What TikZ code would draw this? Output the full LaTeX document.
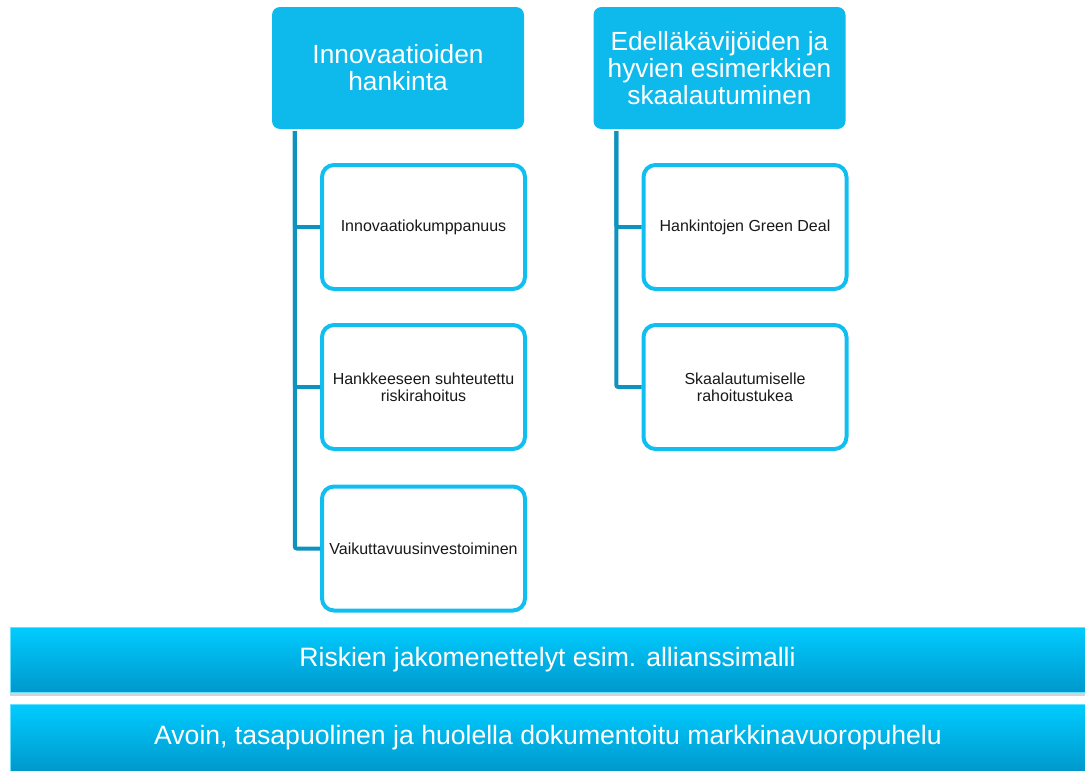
\documentclass[tikz,border=0pt]{standalone}
\usepackage{fontspec}
\setmainfont{Liberation Sans}
\usetikzlibrary{shadows}
\definecolor{headcyan}{RGB}{14,185,236}
\definecolor{boxcyan}{RGB}{16,190,240}
\definecolor{linkblue}{RGB}{14,146,190}
\definecolor{bartop}{RGB}{0,204,255}
\definecolor{barbottom}{RGB}{0,152,204}

\begin{document}
\begin{tikzpicture}[x=1pt, y=-1pt,
    head/.style={fill=headcyan, rounded corners=8pt, minimum width=252pt, minimum height=122pt,
        inner sep=0pt, align=center, text=white, font=\fontsize{26.3}{27}\selectfont},
    item/.style={draw=boxcyan, line width=4pt, fill=white, rounded corners=12pt, minimum width=203pt,
        minimum height=124pt, inner sep=0pt, align=center, text=black!90, font=\fontsize{16}{17}\selectfont},
    bar/.style={top color=bartop, bottom color=barbottom, draw=bartop!60, line width=0.6pt,
        minimum width=1075pt, inner sep=0pt, text=white, font=\fontsize{26.6}{28}\selectfont,
        drop shadow={shadow xshift=0pt, shadow yshift=-4pt, opacity=0.35}},
    link/.style={draw=linkblue, line width=4pt, rounded corners=2pt}]
    \useasboundingbox (0,0) rectangle (1085,771);
    \node[head] (inno) at (398,68) {Innovaatioiden\\hankinta};
    \node[head] (edel) at (719.5,68) {Edelläkävijöiden ja\\hyvien esimerkkien\\skaalautuminen};
    \node[item] (kump) at (423.5,227) {Innovaatiokumppanuus};
    \node[item] (riski) at (423.5,387) {Hankkeeseen suhteutettu\\riskirahoitus};
    \node[item] (vaik) at (423.5,548.5) {Vaikuttavuusinvestoiminen};
    \node[item] (green) at (745,227) {Hankintojen Green Deal};
    \node[item] (skaala) at (745,387) {Skaalautumiselle\\rahoitustukea};
    \draw[link] ([xshift=23pt,yshift=-2pt]inno.south west) |- (kump.west);
    \draw[link] ([xshift=23pt,yshift=-2pt]inno.south west) |- (riski.west);
    \draw[link] ([xshift=23pt,yshift=-2pt]inno.south west) |- (vaik.west);
    \draw[link] ([xshift=23pt,yshift=-2pt]edel.south west) |- (green.west);
    \draw[link] ([xshift=23pt,yshift=-2pt]edel.south west) |- (skaala.west);
    \node[bar, minimum height=65pt] (jako) at (547.5,659.5) {Riskien jakomenettelyt esim. allianssimalli};
    \node[bar, minimum height=67pt] (dialogi) at (548,737.5) {Avoin, tasapuolinen ja huolella dokumentoitu markkinavuoropuhelu};
\end{tikzpicture}
\end{document}
